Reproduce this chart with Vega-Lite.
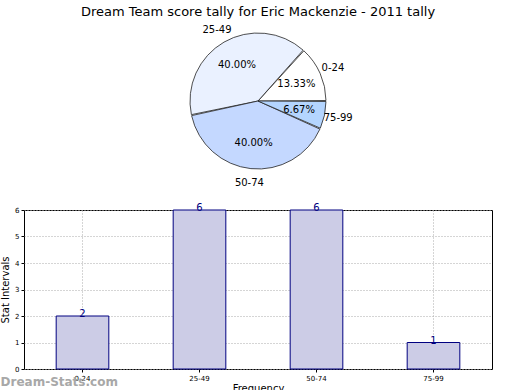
{
  "$schema": "https://vega.github.io/schema/vega-lite/v6.json",
  "padding": {"top": 5, "left": 0, "right": 0, "bottom": 0},
  "background": "white",
  "config": {"font": "DejaVu Sans", "view": {"stroke": "#000", "strokeWidth": 1}},
  "data": {"values": [
    {"range": "0-24", "count": 2, "pct": "13.33%", "ord": 1},
    {"range": "25-49", "count": 6, "pct": "40.00%", "ord": 2},
    {"range": "50-74", "count": 6, "pct": "40.00%", "ord": 3},
    {"range": "75-99", "count": 1, "pct": "6.67%", "ord": 4}
  ]},
  "spacing": 14,
  "vconcat": [
    {
      "width": 468,
      "height": 152,
      "view": {"stroke": null},
      "title": {"text": "Dream Team score tally for Eric Mackenzie - 2011 tally", "fontSize": 13, "fontWeight": "normal", "color": "#000", "offset": 6, "anchor": "middle"},
      "encoding": {
        "theta": {"field": "count", "type": "quantitative", "stack": true, "scale": {"range": [1.5708, -4.7124]}},
        "order": {"field": "ord", "type": "quantitative"}
      },
      "layer": [
        {
          "mark": {"type": "arc", "outerRadius": 68, "stroke": "#222", "strokeWidth": 0.8, "padAngle": 0.015},
          "encoding": {
            "color": {"field": "range", "type": "nominal", "legend": null,
              "scale": {"domain": ["0-24", "25-49", "50-74", "75-99"], "range": ["#ffffff", "#eaf1ff", "#c4d8ff", "#b4d5ff"]}}
          }
        },
        {
          "mark": {"type": "text", "radius": 42, "fontSize": 10, "color": "#000"},
          "encoding": {"text": {"field": "pct"}}
        },
        {
          "mark": {"type": "text", "radius": 82, "fontSize": 10, "color": "#000"},
          "encoding": {"text": {"field": "range"}}
        }
      ]
    },
    {
      "width": 468,
      "height": 159,
      "title": {"text": "Dream-Stats.com", "orient": "bottom", "anchor": "start", "frame": "bounds", "fontSize": 12, "fontWeight": "bold", "color": "#a8a8a8", "offset": -16},
      "encoding": {
        "x": {"field": "range", "type": "nominal", "sort": null,
          "scale": {"paddingInner": 0.55, "paddingOuter": 0.275},
          "axis": {"title": "Frequency", "titleFontSize": 10, "titleFontWeight": "normal", "titleColor": "#000", "titlePadding": 2, "labelAngle": 0, "labelFontSize": 7, "labelColor": "#000", "tickColor": "#000", "tickSize": 3, "domain": false, "grid": true, "gridDash": [1, 2], "gridColor": "#aaaaaa", "bandPosition": 0.5}},
        "y": {"field": "count", "type": "quantitative",
          "scale": {"domain": [0, 6], "nice": false},
          "axis": {"title": "Stat Intervals", "titleFontSize": 10, "titleFontWeight": "normal", "titleColor": "#000", "titlePadding": 4, "labelFontSize": 7, "labelColor": "#000", "tickColor": "#000", "tickSize": 3, "values": [0, 1, 2, 3, 4, 5, 6], "labelOverlap": false, "domain": false, "grid": true, "gridDash": [1, 2], "gridColor": "#aaaaaa", "labelPadding": 2}}
      },
      "layer": [
        {"mark": {"type": "bar", "fill": "#ccccE6", "stroke": "#000080", "strokeWidth": 1}},
        {"mark": {"type": "text", "baseline": "bottom", "dy": 3, "fontSize": 10, "color": "#000080"},
          "encoding": {"text": {"field": "count", "type": "quantitative"}}}
      ]
    }
  ]
}
